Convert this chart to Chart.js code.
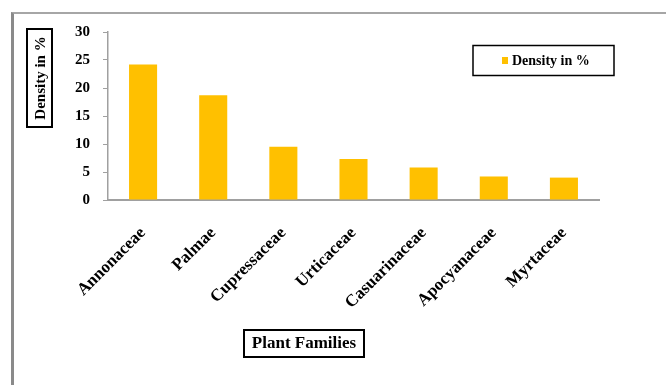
<!DOCTYPE html>
<html lang="en">
<head>
<meta charset="UTF-8">
<title>Density by Plant Family</title>
<script src="https://cdn.jsdelivr.net/npm/chart.js"></script>
<style>
  body { margin: 0; background: #fff; }
  .wrap { position: relative; width: 666px; height: 385px; overflow: hidden; }
  .frame { position: absolute; left: 11px; top: 12px; right: -5px; bottom: -5px;
           border-top: 2px solid #a6a6a6; border-left: 3px solid #8a8a8a; }
  canvas { position: absolute; left: 0; top: 0; }
</style>
</head>
<body>
<div class="wrap">
  <div class="frame"></div>
  <canvas id="chart" width="666" height="385"></canvas>
</div>
<script>
const families = ["Annonaceae", "Palmae", "Cupressaceae", "Urticaceae", "Casuarinaceae", "Apocyanaceae", "Myrtaceae"];
const density = [24.2, 18.7, 9.5, 7.3, 5.8, 4.2, 4.0];
const yTicks = [0, 5, 10, 15, 20, 25, 30];
const seriesName = "Density in %";
const xTitle = "Plant Families";
const yTitle = "Density in %";

const FONT = '"Liberation Serif", "Times New Roman", serif';
const AXIS = '#a0a0a0';

// boxed axis titles and the framed legend
const boxedText = {
  id: 'boxedText',
  afterDraw(chart) {
    const ctx = chart.ctx;
    ctx.save();
    ctx.fillStyle = '#000';
    ctx.strokeStyle = '#000';

    // y title, vertical
    ctx.lineWidth = 2;
    ctx.strokeRect(27, 29, 25, 98);
    ctx.save();
    ctx.translate(40, 78);
    ctx.rotate(-Math.PI / 2);
    ctx.font = 'bold 15px ' + FONT;
    ctx.textAlign = 'center';
    ctx.textBaseline = 'middle';
    ctx.fillText(yTitle, 0, 1);
    ctx.restore();

    // x title
    ctx.strokeRect(244, 330, 120, 27);
    ctx.font = 'bold 17px ' + FONT;
    ctx.textAlign = 'center';
    ctx.textBaseline = 'middle';
    ctx.fillText(xTitle, 304, 344);

    // legend
    ctx.lineWidth = 1.5;
    ctx.strokeRect(473, 45.5, 141, 30);
    ctx.fillStyle = chart.data.datasets[0].backgroundColor;
    ctx.fillRect(502, 57, 6, 7);
    ctx.fillStyle = '#000';
    ctx.font = 'bold 14px ' + FONT;
    ctx.textAlign = 'left';
    ctx.fillText(chart.data.datasets[0].label, 512, 61);
    ctx.restore();
  }
};

new Chart(document.getElementById('chart'), {
  type: 'bar',
  data: {
    labels: families,
    datasets: [{
      label: seriesName,
      data: density,
      backgroundColor: '#FFC000',
      categoryPercentage: 1.0,
      barPercentage: 0.4
    }]
  },
  options: {
    responsive: false,
    devicePixelRatio: 1,
    animation: false,
    layout: { padding: { left: 0, top: 32, right: 67, bottom: 0 } },
    plugins: {
      legend: { display: false },
      tooltip: { enabled: false }
    },
    scales: {
      x: {
        grid: { display: false },
        border: { color: AXIS, width: 2 },
        ticks: {
          color: '#000',
          font: { family: FONT, size: 17, weight: 'bold' },
          minRotation: 45,
          maxRotation: 45,
          padding: 15
        },
        afterFit: s => { s.height = 185; }
      },
      y: {
        min: 0,
        max: 30,
        grid: { drawOnChartArea: false, drawTicks: true, tickLength: 5, color: AXIS, lineWidth: 1 },
        border: { color: AXIS, width: 1.5 },
        ticks: {
          color: '#000',
          font: { family: FONT, size: 15, weight: 'bold' },
          padding: 13
        },
        afterBuildTicks: s => { s.ticks = yTicks.map(v => ({ value: v })); },
        afterFit: s => { s.width = 108; }
      }
    }
  },
  plugins: [boxedText]
});
</script>
</body>
</html>
